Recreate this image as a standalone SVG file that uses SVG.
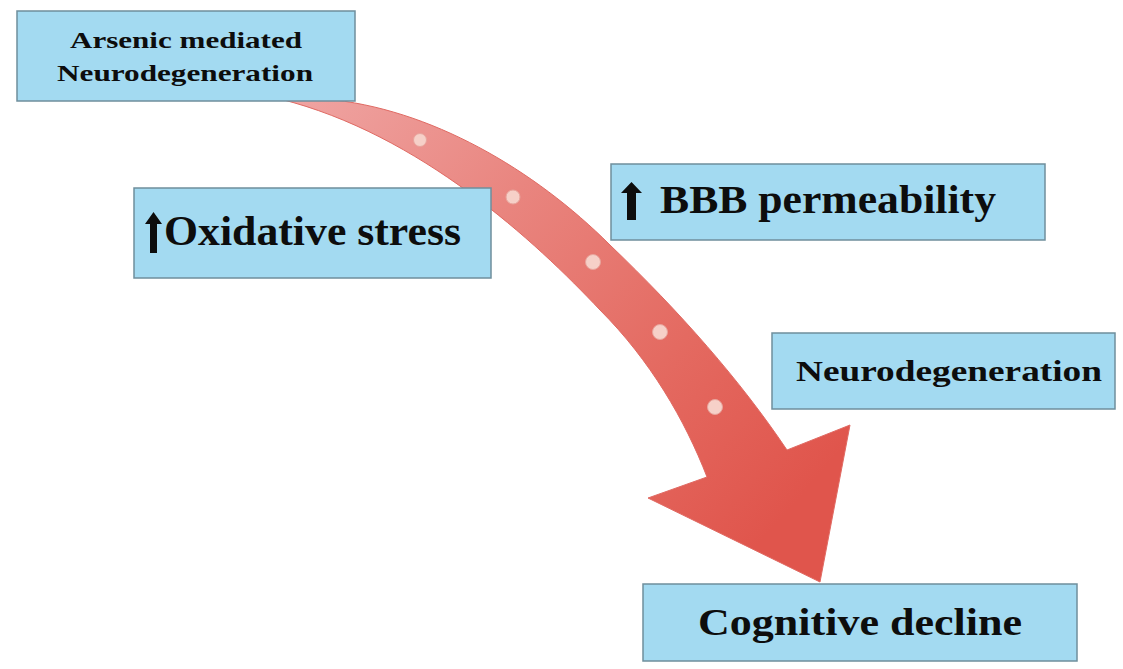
<svg xmlns="http://www.w3.org/2000/svg" width="1123" height="669" viewBox="0 0 1123 669">
  <style>
    .box { fill: #a3daf1; stroke: #6f8e9c; stroke-width: 1.5; }
    .t { font-family: "Liberation Serif", "Times New Roman", serif; font-weight: bold; fill: #0d0d0d; }
    .dot { fill: #f6d0c8; stroke: #e8a49c; stroke-width: 1; }
    .up { fill: #0d0d0d; }
  </style>
  <defs>
    <linearGradient id="band" gradientUnits="userSpaceOnUse" x1="300" y1="100" x2="780" y2="520">
      <stop offset="0" stop-color="#efa3a1"/>
      <stop offset="0.35" stop-color="#e9857f"/>
      <stop offset="0.7" stop-color="#e46a61"/>
      <stop offset="1" stop-color="#e0554c"/>
    </linearGradient>
  </defs>
  <rect x="0" y="0" width="1123" height="669" fill="#ffffff"/>

  <g id="connectors">
    <path id="curved-arrow" d="M 325,99 C 430,108 535,170 610,245 C 680,312 740,380 787,450 L 850,425 L 820,582 L 648,498 L 707,477 C 685,420 650,360 600,310 C 536,242 420,134 280,99 Z" fill="url(#band)" stroke="#e06a63" stroke-width="1"/>
    <circle class="dot" cx="420" cy="140" r="6.5"/>
    <circle class="dot" cx="513" cy="197" r="7"/>
    <circle class="dot" cx="593" cy="262" r="7.5"/>
    <circle class="dot" cx="660" cy="332" r="7.5"/>
    <circle class="dot" cx="715" cy="407" r="7.5"/>
  </g>

  <g id="node-arsenic">
    <rect class="box" x="17" y="11" width="338" height="90"/>
    <text class="t" x="70" y="48" font-size="24" textLength="232" lengthAdjust="spacingAndGlyphs">Arsenic mediated</text>
    <text class="t" x="57" y="81" font-size="24" textLength="256" lengthAdjust="spacingAndGlyphs">Neurodegeneration</text>
  </g>

  <g id="node-oxidative">
    <rect class="box" x="134" y="188" width="357" height="90"/>
    <path class="up" d="M 153.5,212 L 162,224 L 157,224 L 157,253 L 150,253 L 150,224 L 145,224 Z"/>
    <text class="t" x="164" y="245" font-size="42" textLength="297" lengthAdjust="spacingAndGlyphs">Oxidative stress</text>
  </g>

  <g id="node-bbb">
    <rect class="box" x="611" y="164" width="434" height="76"/>
    <path class="up" d="M 631.5,182 L 642,193 L 636,193 L 636,220 L 627,220 L 627,193 L 621,193 Z"/>
    <text class="t" x="660" y="213" font-size="39" textLength="336" lengthAdjust="spacingAndGlyphs">BBB permeability</text>
  </g>

  <g id="node-neuro">
    <rect class="box" x="772" y="333" width="343" height="76"/>
    <text class="t" x="796" y="381" font-size="29" textLength="306" lengthAdjust="spacingAndGlyphs">Neurodegeneration</text>
  </g>

  <g id="node-cognitive">
    <rect class="box" x="643" y="584" width="434" height="77"/>
    <text class="t" x="698" y="635" font-size="37" textLength="324" lengthAdjust="spacingAndGlyphs">Cognitive decline</text>
  </g>
</svg>
